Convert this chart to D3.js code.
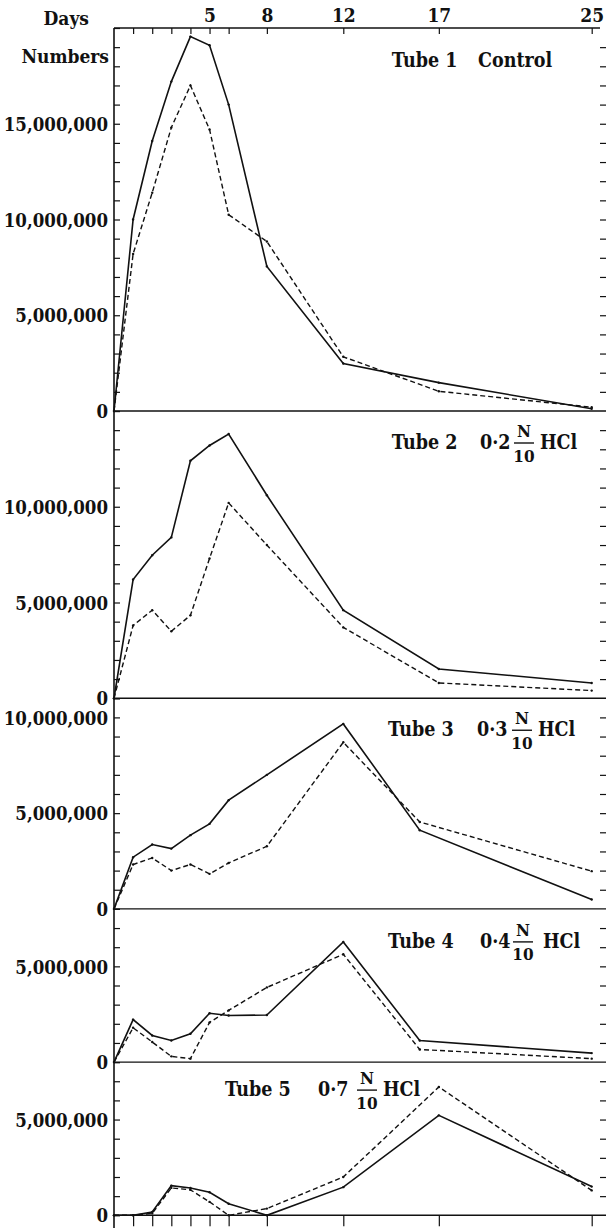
<!DOCTYPE html>
<html><head><meta charset="utf-8">
<script src="https://cdn.jsdelivr.net/npm/d3@7"></script>
<style>
html,body{margin:0;padding:0;background:#fff;}
svg text{font-family:"DejaVu Serif",serif;font-weight:bold;font-stretch:condensed;fill:#111;}
</style></head><body>
<svg id="c" width="606" height="1228"></svg>
<script>
// ---------- DATA (numbers in millions, days) ----------
const dayTicks  = [1,2,3,4,5,6,8,12,17,25];
const dayLabels = [5,8,12,17,25];
const tubeNames = ["Tube 1","Tube 2","Tube 3","Tube 4","Tube 5"];
const tubeConc  = ["Control","0·2","0·3","0·4","0·7"];
const panelMax  = [20,15,11,8,8];

const t1Days   = [0,1,2,3,4,5,6,8,12,17,25];
const t1Solid  = [0,10.0,14.1,17.2,19.55,19.1,16.0,7.55,2.48,1.48,0.12];
const t1Dashed = [0,8.2,11.4,14.8,17.0,14.7,10.25,8.85,2.83,1.03,0.2];

const t2Days   = [0,1,2,3,4,5,6,8,12,17,25];
const t2Solid  = [0,6.2,7.47,8.4,12.4,13.2,13.8,10.6,4.6,1.53,0.8];
const t2Dashed = [0,3.8,4.6,3.5,4.33,7.3,10.2,8.0,3.7,0.8,0.4];

const t3Days   = [0,1,2,3,4,5,6,8,12,16,25];
const t3Solid  = [0,2.7,3.36,3.15,3.85,4.44,5.68,7.0,9.66,4.11,0.49];
const t3Dashed = [0,2.32,2.66,2.0,2.32,1.83,2.4,3.27,8.7,4.54,1.97];

const t4Days   = [0,1,2,3,4,5,6,8,12,16,25];
const t4Solid  = [0,2.22,1.39,1.13,1.48,2.55,2.43,2.46,6.27,1.13,0.47];
const t4Dashed = [0,1.79,1.05,0.3,0.18,2.07,2.7,3.9,5.63,0.66,0.18];

const t5Days   = [0,1,2,3,4,5,6,8,12,17,25];
const t5Solid  = [0,0,0.17,1.55,1.43,1.2,0.6,0,1.47,5.22,1.5];
const t5Dashed = [0,0,0.1,1.43,1.33,0.7,0,0.35,2.0,6.7,1.3];

const tubeDays   = [t1Days,t2Days,t3Days,t4Days,t5Days];
const tubeSolid  = [t1Solid,t2Solid,t3Solid,t4Solid,t5Solid];
const tubeDashed = [t1Dashed,t2Dashed,t3Dashed,t4Dashed,t5Dashed];

// ---------- LAYOUT ----------
const W = 606, H = 1228;
const left = 114, rightEdge = 606, topY = 28, pxPerM = 19.15;
const titleLayout = [
  {x:391.7, base:38.5, concX:478, fracX:null, hclX:null},
  {x:391.7, base:38,   concX:480, fracX:524, hclX:540},
  {x:388,   base:38,   concX:477, fracX:522, hclX:538},
  {x:388,   base:39,   concX:480, fracX:523, hclX:543},
  {x:225,   base:34,   concX:318, fracX:367, hclX:383}
];

const svg = d3.select("#c");
const x = d3.scaleLinear().domain([0,25]).range([left, 591.7]);

let cur = topY;
const panels = panelMax.map((m,i) => {
  const p = {top: cur, bottom: cur + m*pxPerM, max: m};
  p.y = d3.scaleLinear().domain([0, m*1e6]).range([p.bottom, p.top]);
  cur = p.bottom;
  return p;
});
const bottomY = panels[panels.length-1].bottom;

const fmt = d3.format(",");

panels.forEach((p,i) => {
  const g = svg.append("g");
  const ticks = d3.range(0, p.max*1e6 + 1, 1e6);
  const ax = d3.axisLeft(p.y).tickValues(ticks).tickSize(-6).tickPadding(6)
    .tickFormat(v => (v % 5e6 === 0 && v < p.max*1e6) ? fmt(v) : "");
  const ga = g.append("g").attr("transform",`translate(${left},0)`).call(ax);
  ga.select(".domain").remove();
  ga.selectAll("line").attr("stroke","#111").attr("stroke-width",1.2);
  ga.selectAll("text").attr("font-size",18.5).attr("dy","0.36em")
    .style("font-family","'DejaVu Serif',serif").style("font-weight","bold");
  const ar = d3.axisRight(p.y).tickValues(ticks.filter(v=>v>0 && v< p.max*1e6)).tickSize(-6).tickFormat("");
  const gr = g.append("g").attr("transform",`translate(${rightEdge},0)`).call(ar);
  gr.select(".domain").remove();
  gr.selectAll("line").attr("stroke","#111").attr("stroke-width",1.2);
  g.append("line").attr("x1",left).attr("x2",rightEdge)
    .attr("y1",p.y(0)).attr("y2",p.y(0)).attr("stroke","#111").attr("stroke-width",1.4);

  const days = tubeDays[i];
  const line = d3.line().x(d=>x(d[0])).y(d=>p.y(d[1]*1e6));
  const sPts = days.map((d,k)=>[d,tubeSolid[i][k]]);
  const dPts = days.map((d,k)=>[d,tubeDashed[i][k]]);
  g.append("path").datum(dPts).attr("d",line).attr("fill","none")
    .attr("stroke","#111").attr("stroke-width",1.4).attr("stroke-dasharray","5,3");
  g.append("path").datum(sPts).attr("d",line).attr("fill","none")
    .attr("stroke","#111").attr("stroke-width",1.6);
  g.selectAll("circle.s").data(sPts.concat(dPts)).join("circle")
    .attr("cx",d=>x(d[0])).attr("cy",d=>p.y(d[1]*1e6)).attr("r",1.2).attr("fill","#111");

  const L = titleLayout[i];
  const by = p.top + L.base;
  const fs = 19.5;
  g.append("text").attr("x",L.x).attr("y",by).attr("font-size",fs).text(tubeNames[i]);
  g.append("text").attr("x",L.concX).attr("y",by).attr("font-size",fs).text(tubeConc[i]);
  if (L.fracX !== null) {
    g.append("text").attr("x",L.fracX).attr("y",by-12).attr("font-size",17)
      .attr("text-anchor","middle").text("N");
    g.append("line").attr("x1",L.fracX-10).attr("x2",L.fracX+10)
      .attr("y1",by-6).attr("y2",by-6).attr("stroke","#111").attr("stroke-width",1.4);
    g.append("text").attr("x",L.fracX).attr("y",by+12.5).attr("font-size",17)
      .attr("text-anchor","middle").text("10");
    g.append("text").attr("x",L.hclX).attr("y",by).attr("font-size",fs).text("HCl");
  }
});

svg.append("line").attr("x1",left).attr("x2",left).attr("y1",topY).attr("y2",H)
  .attr("stroke","#111").attr("stroke-width",1.6);

const at = d3.axisTop(x).tickValues(dayTicks).tickSize(-6).tickPadding(6)
  .tickFormat(d => dayLabels.includes(d) ? d : "");
const gt = svg.append("g").attr("transform",`translate(0,${topY})`).call(at);
gt.select(".domain").remove();
gt.selectAll("line").attr("stroke","#111").attr("stroke-width",1.2);
gt.selectAll("text").attr("font-size",19).attr("dy","0")
  .style("font-family","'DejaVu Serif',serif").style("font-weight","bold");
svg.append("line").attr("x1",left).attr("x2",600).attr("y1",topY).attr("y2",topY)
  .attr("stroke","#111").attr("stroke-width",1.6);

const ab = d3.axisBottom(x).tickValues(dayTicks).tickSize(11).tickFormat("");
const gb = svg.append("g").attr("transform",`translate(0,${bottomY})`).call(ab);
gb.select(".domain").remove();
gb.selectAll("line").attr("stroke","#111").attr("stroke-width",1.2);

svg.append("text").attr("x",89).attr("y",25).attr("font-size",19)
  .attr("text-anchor","end").text("Days");
svg.append("text").attr("x",109).attr("y",63).attr("font-size",19)
  .attr("text-anchor","end").text("Numbers");
</script>
</body></html>
